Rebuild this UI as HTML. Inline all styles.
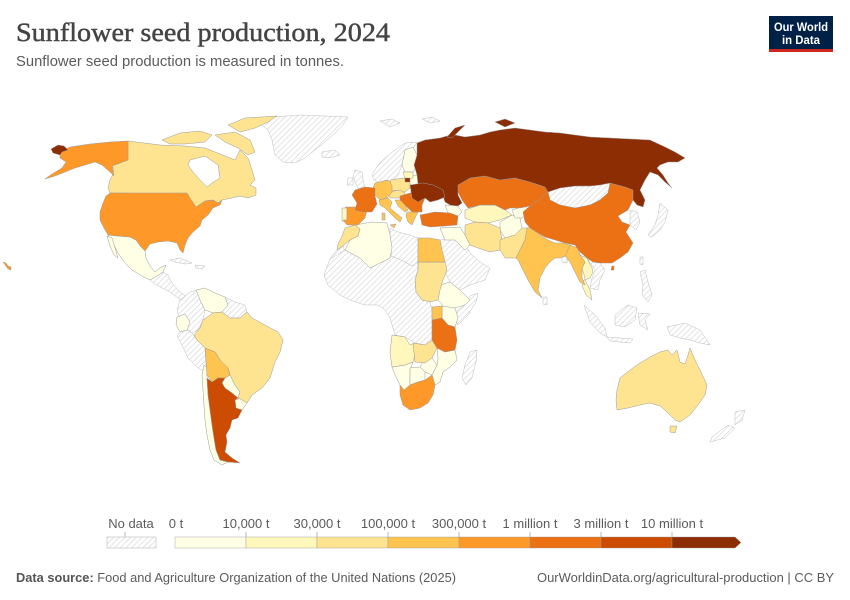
<!DOCTYPE html>
<html><head><meta charset="utf-8"><style>
html,body{margin:0;padding:0;background:#fff;}
svg{display:block;}
</style></head><body>
<svg width="850" height="600" viewBox="0 0 850 600" xmlns="http://www.w3.org/2000/svg">
<defs>
<pattern id="h" width="4" height="4" patternUnits="userSpaceOnUse" patternTransform="rotate(45)">
<rect width="4" height="4" fill="#fff"/><line x1="0" y1="0" x2="0" y2="4" stroke="#d6d6d6" stroke-width="1.3"/>
</pattern>
</defs>
<rect width="850" height="600" fill="#fff"/>
<text x="16" y="41" font-family="Liberation Serif, serif" font-size="26.5" fill="#444" stroke="#444" stroke-width="0.45" textLength="374" lengthAdjust="spacingAndGlyphs">Sunflower seed production, 2024</text>
<text x="16" y="66" font-family="Liberation Sans, sans-serif" font-size="14.5" fill="#5b5b5b" textLength="328" lengthAdjust="spacingAndGlyphs">Sunflower seed production is measured in tonnes.</text>
<rect x="769" y="16" width="64" height="36" fill="#002147"/>
<rect x="769" y="49" width="64" height="3" fill="#ce261e"/>
<text x="801" y="31" text-anchor="middle" font-family="Liberation Sans, sans-serif" font-size="11.5" font-weight="bold" fill="#fff" textLength="54" lengthAdjust="spacingAndGlyphs">Our World</text>
<text x="801" y="44" text-anchor="middle" font-family="Liberation Sans, sans-serif" font-size="11.5" font-weight="bold" fill="#fff" textLength="38" lengthAdjust="spacingAndGlyphs">in Data</text>

<!-- MAP -->
<g stroke="#bdbdbd" stroke-width="0.5" fill="url(#h)">
<path d="M258,118 L300,115 L348,117 L343,125 L335,133 L325,142 L315,150 L305,158 L295,163 L283,162 L275,155 L272,140 L268,130 L260,124 Z"/>
<path d="M322,152 L335,150 L340,155 L330,158 L322,157 Z"/>
<path d="M380,121 L392,119 L400,123 L390,127 Z"/>
<path d="M422,119 L432,117 L440,121 L430,123 Z"/>
<path d="M150,280 L157,276 L163,272 L168,275 L172,283 L180,292 L188,298 L185,302 L178,298 L170,292 L162,288 L155,284 Z"/>
<path d="M170,260 L180,258 L192,263 L185,264 L175,262 Z"/>
<path d="M195,265 L205,266 L202,269 L196,268 Z"/>
<path d="M180,300 L190,292 L197,290 L200,300 L205,310 L203,320 L198,330 L192,333 L186,327 L180,320 L177,310 Z"/>
<path d="M225,297 L235,302 L245,305 L247,312 L240,318 L230,318 L222,312 L228,305 Z"/>
<path d="M180,332 L187,330 L192,333 L197,340 L205,348 L206,362 L206,372 L198,368 L188,358 L182,345 L177,336 Z"/>
<path d="M337,250 L343,246 L345,252 L335,262 L330,259 Z"/>
<path d="M390,228 L398,232 L410,235 L418,238 L418,262 L412,266 L405,262 L392,256 L390,248 Z"/>
<path d="M470,296 L478,293 L476,302 L468,315 L458,325 L455,320 L458,310 L465,305 Z"/>
<path d="M330,259 L345,250 L360,258 L370,268 L378,264 L390,258 L392,256 L405,262 L412,266 L418,262 L418,270 L415,280 L416,292 L422,300 L430,302 L432,310 L432,322 L432,340 L425,345 L415,343 L405,337 L395,335 L390,318 L385,310 L378,305 L365,305 L350,300 L340,295 L328,285 L324,275 Z"/>
<path d="M470,352 L477,350 L476,362 L472,378 L466,385 L462,378 L465,365 Z"/>
<path d="M440,240 L455,237 L465,245 L472,255 L480,262 L490,268 L485,280 L470,285 L460,290 L450,282 L445,272 L443,260 Z"/>
<path d="M548,192 L560,188 L575,186 L590,186 L600,185 L610,183 L608,193 L600,200 L590,205 L575,208 L560,205 L550,200 Z"/>
<path d="M587,258 L593,262 L600,263 L605,270 L600,280 L598,290 L590,288 L592,278 L595,270 Z"/>
<path d="M562,255 L568,256 L567,263 L562,262 Z"/>
<path d="M543,297 L547,297 L547,305 L543,304 Z"/>
<path d="M584,305 L595,315 L605,328 L607,337 L600,333 L590,322 Z"/>
<path d="M615,315 L628,305 L637,308 L635,320 L625,327 L615,325 Z"/>
<path d="M607,337 L633,339 L630,343 L610,341 Z"/>
<path d="M638,313 L650,314 L645,320 L648,330 L640,325 Z"/>
<path d="M667,327 L685,323 L700,330 L710,345 L700,343 L690,340 L680,338 L670,335 Z"/>
<path d="M640,272 L645,270 L648,282 L652,295 L648,302 L642,295 L643,285 Z"/>
<path d="M660,203 L668,210 L665,222 L660,230 L652,237 L648,235 L655,225 L658,215 Z"/>
<path d="M630,210 L637,212 L640,222 L636,230 L630,225 Z"/>
<path d="M640,257 L643,257 L643,265 L640,264 Z"/>
<path d="M735,412 L745,410 L742,420 L735,425 Z"/>
<path d="M728,425 L735,428 L725,438 L710,442 L712,437 Z"/>
<path d="M372,175 L378,165 L385,158 L395,150 L405,143 L417,142 L413,148 L405,152 L402,165 L398,175 L392,182 L385,180 L380,183 L374,180 Z"/>
<path d="M355,170 L362,172 L363,180 L365,188 L358,188 L355,182 L353,176 Z"/>
<path d="M348,178 L353,178 L353,185 L347,185 Z"/>
</g>

<g stroke="#9a9a9a" stroke-width="0.5">
<!-- c0 -->
<g fill="#ffffe5">
<path d="M108,235 L118,236 L130,237 L136,240 L141,247 L145,251 L146,258 L150,266 L155,272 L160,268 L166,265 L163,272 L157,276 L150,280 L142,276 L132,270 L125,263 L118,253 L114,245 Z"/>
<path d="M107,236 L112,238 L115,248 L118,258 L114,255 L110,246 Z"/>
<path d="M196,290 L205,288 L215,293 L225,297 L228,305 L222,312 L213,313 L205,310 L200,300 Z"/>
<path d="M177,317 L185,314 L190,322 L187,330 L180,332 L176,325 Z"/>
<path d="M225,378 L230,375 L235,385 L240,392 L238,398 L232,393 L225,388 L222,383 Z"/>
<path d="M235,400 L242,398 L247,403 L242,410 L236,408 Z"/>
<path d="M204,365 L207,368 L207,378 L208,395 L210,410 L212,425 L214,438 L216,450 L220,460 L228,462 L222,465 L214,460 L210,450 L207,435 L205,420 L204,405 L203,390 L202,375 Z"/>
<path d="M355,225 L372,222 L387,223 L390,235 L392,248 L390,258 L378,264 L370,268 L360,258 L345,250 L350,240 L358,236 L360,229 Z"/>
<path d="M440,285 L450,282 L460,290 L470,300 L465,305 L455,308 L445,308 L438,300 Z"/>
<path d="M442,306 L455,308 L458,318 L455,327 L448,325 L442,318 Z"/>
<path d="M437,348 L445,352 L455,350 L457,360 L450,367 L443,372 L440,382 L435,385 L432,375 L437,365 L438,358 Z"/>
<path d="M423,362 L432,358 L437,365 L432,375 L425,372 L420,367 Z"/>
<path d="M392,367 L405,365 L413,362 L410,370 L410,385 L404,390 L400,385 L395,375 Z"/>
<path d="M410,368 L420,367 L425,372 L425,380 L418,382 L410,385 Z"/>
<path d="M440,228 L460,227 L465,235 L470,245 L465,250 L455,240 L445,240 Z"/>
<path d="M500,222 L512,215 L520,218 L522,228 L515,235 L505,238 L500,230 Z"/>
<path d="M512,210 L525,206 L530,212 L522,218 L515,218 Z"/>
<path d="M445,205 L458,206 L462,212 L458,216 L448,213 Z"/>
<path d="M405,150 L413,147 L417,155 L418,165 L413,172 L405,172 L402,165 Z"/>
<path d="M408,177 L418,175 L423,182 L418,186 L408,186 Z"/>
</g>
<!-- c1 -->
<g fill="#fff7bc">
<path d="M392,335 L405,337 L410,345 L415,343 L415,355 L413,362 L405,365 L392,367 L390,352 Z"/>
<path d="M465,210 L480,205 L495,205 L505,210 L512,215 L500,220 L488,223 L475,222 L465,218 Z"/>
<path d="M342,208 L347,208 L347,222 L342,221 Z"/>
<path d="M580,255 L587,258 L592,268 L593,272 L590,278 L585,280 L590,290 L592,300 L586,295 L582,285 L585,278 L582,268 L585,262 Z"/>
<path d="M403,172 L413,172 L413,178 L405,179 Z"/>
</g>
<!-- c2 -->
<g fill="#fee391">
<path d="M128,141 L160,145 L185,146 L205,148 L215,152 L225,156 L235,160 L240,150 L248,158 L252,170 L255,180 L250,185 L256,188 L256,195 L248,198 L240,196 L232,198 L222,200 L218,203 L213,200 L205,201 L196,207 L190,205 L187,194 L110,193 L108,188 L110,180 L112,176 L114,170 L112,166 L128,160 Z"/>
<path d="M228,125 L245,118 L277,116 L268,122 L255,128 L240,132 Z"/>
<path d="M215,135 L235,132 L250,140 L255,152 L248,155 L238,148 L225,142 Z"/>
<path d="M162,140 L180,133 L200,131 L212,135 L205,142 L185,144 L170,144 Z"/>
<path d="M203,320 L213,313 L222,312 L230,318 L240,318 L247,312 L252,318 L265,325 L278,332 L283,340 L280,352 L275,362 L270,378 L262,388 L252,395 L247,403 L242,400 L238,398 L240,392 L235,385 L230,375 L228,368 L220,360 L215,352 L205,348 L197,340 L194,335 L200,328 Z"/>
<path d="M345,228 L355,225 L360,229 L358,236 L350,240 L343,246 L337,250 L338,244 L342,236 Z"/>
<path d="M418,262 L445,262 L447,270 L443,280 L440,290 L438,300 L430,302 L422,300 L416,292 L415,280 L418,270 Z"/>
<path d="M413,343 L425,345 L432,340 L437,348 L432,358 L425,363 L415,362 Z"/>
<path d="M465,225 L475,222 L488,223 L500,228 L502,240 L500,250 L490,252 L478,248 L470,245 L465,235 Z"/>
<path d="M500,240 L505,238 L515,235 L522,228 L528,228 L525,240 L520,250 L516,258 L505,258 L500,250 Z"/>
<path d="M617,390 L620,378 L630,370 L640,363 L650,357 L660,352 L668,350 L672,355 L677,350 L680,362 L685,364 L688,355 L690,348 L695,360 L700,370 L707,385 L705,395 L698,405 L690,415 L680,422 L675,420 L665,410 L660,406 L650,403 L640,405 L628,408 L617,410 L616,400 Z"/>
<path d="M670,426 L677,426 L675,433 L670,432 Z"/>
<path d="M390,180 L403,178 L410,180 L410,188 L405,192 L392,190 Z"/>
<path d="M388,192 L400,190 L405,193 L402,198 L390,198 Z"/>
</g>
<!-- c3 -->
<g fill="#fec44f">
<path d="M418,238 L430,238 L440,240 L442,250 L445,262 L418,262 Z"/>
<path d="M432,307 L442,306 L442,318 L432,320 Z"/>
<path d="M205,348 L215,352 L220,360 L228,368 L230,375 L225,378 L218,378 L212,382 L207,375 L206,362 Z"/>
<path d="M527,228 L533,227 L540,235 L548,240 L555,243 L563,243 L570,245 L572,250 L565,256 L560,258 L555,258 L550,262 L545,268 L540,278 L538,290 L542,298 L535,292 L528,280 L522,268 L518,260 L516,258 L520,250 L525,240 Z"/>
<path d="M570,245 L578,248 L580,255 L585,262 L582,268 L582,278 L585,285 L580,282 L575,272 L570,262 L565,256 Z"/>
<path d="M375,183 L388,180 L392,185 L392,192 L388,197 L380,200 L375,195 L373,188 Z"/>
<path d="M379,200 L388,198 L392,202 L390,208 L396,213 L402,218 L400,222 L395,218 L390,213 L385,208 L380,205 Z"/>
<path d="M390,225 L396,224 L394,228 Z"/>
<path d="M382,213 L385,213 L385,220 L382,220 Z"/>
<path d="M395,200 L402,200 L408,210 L405,212 L398,206 Z"/>
<path d="M407,212 L418,212 L415,218 L412,225 L408,222 L406,216 Z"/>
</g>
<!-- c4 -->
<g fill="#fe9929">
<path d="M110,193 L187,193 L190,198 L196,207 L205,201 L213,200 L218,203 L222,200 L220,205 L213,208 L208,215 L202,220 L200,226 L193,232 L188,238 L185,245 L183,253 L180,250 L177,243 L168,241 L158,242 L150,244 L145,251 L141,247 L136,240 L130,237 L118,236 L108,235 L104,228 L100,220 L100,212 L103,203 L106,196 Z"/>
<path d="M60,152 L70,147 L90,144 L110,142 L128,141 L128,160 L112,166 L114,176 L110,172 L102,165 L95,162 L85,165 L75,168 L65,172 L55,176 L45,179 L52,174 L62,168 L66,162 L60,158 Z"/>
<path d="M3,262 L6,263 L8,266 L11,267 L11,270 L8,269 Z"/>
<path d="M400,385 L404,390 L410,385 L418,382 L425,380 L432,375 L435,385 L433,395 L428,403 L420,408 L410,410 L403,405 L400,395 Z"/>
<path d="M345,207 L357,207 L367,210 L365,218 L358,225 L347,225 L343,220 L347,220 L347,208 Z"/>
</g>
<!-- c5 -->
<g fill="#ec7014">
<path d="M432,320 L442,318 L448,325 L455,327 L457,340 L455,350 L445,352 L437,348 L432,340 Z"/>
<path d="M420,215 L435,212 L450,213 L458,216 L457,225 L445,226 L430,227 L422,225 Z"/>
<path d="M458,185 L470,178 L485,176 L500,180 L515,178 L530,182 L545,187 L548,192 L538,200 L530,206 L520,208 L510,208 L505,210 L495,205 L480,205 L468,208 L462,200 L458,192 Z"/>
<path d="M523,212 L530,206 L538,200 L548,192 L550,200 L560,205 L575,208 L590,205 L600,200 L608,193 L610,183 L625,187 L633,190 L633,200 L628,210 L618,216 L622,222 L630,225 L626,232 L633,243 L628,252 L620,258 L612,263 L600,263 L593,262 L587,258 L580,252 L575,245 L565,243 L555,240 L545,237 L538,233 L530,228 L525,222 Z"/>
<path d="M612,266 L614,266 L614,270 L611,270 Z"/>
<path d="M355,190 L365,187 L375,188 L375,196 L377,204 L372,212 L362,212 L355,210 L357,203 L352,195 Z"/>
<path d="M400,196 L410,193 L418,192 L425,198 L422,205 L422,212 L412,212 L405,205 L400,200 Z"/>
</g>
<!-- c6 -->
<g fill="#cc4c02">
<path d="M207,378 L212,382 L218,378 L225,378 L222,383 L225,388 L232,393 L238,398 L235,400 L236,408 L242,410 L238,418 L232,420 L230,428 L226,435 L227,442 L225,452 L232,458 L240,463 L228,462 L220,460 L216,450 L214,438 L212,425 L210,410 L208,395 Z"/>
</g>
<!-- c7 -->
<g fill="#8c2d04">
<path d="M417,143 L425,140 L440,138 L447,136 L455,135 L465,137 L480,135 L490,132 L500,130 L515,128 L530,130 L545,132 L560,133 L575,135 L590,137 L610,138 L630,139 L650,140 L665,147 L675,152 L685,158 L678,162 L668,162 L660,165 L657,168 L663,175 L668,183 L672,188 L665,182 L658,175 L650,172 L645,180 L640,190 L645,200 L643,207 L637,205 L633,200 L633,190 L625,187 L610,183 L600,185 L590,186 L575,186 L560,188 L548,192 L545,187 L530,182 L515,178 L500,180 L485,176 L470,178 L458,185 L458,195 L462,203 L458,206 L450,205 L445,202 L443,196 L443,190 L435,188 L425,186 L418,184 L417,175 L414,165 L417,155 Z"/>
<path d="M447,137 L455,128 L465,125 L458,132 L452,138 Z"/>
<path d="M495,122 L505,119 L515,123 L505,127 Z"/>
<path d="M51,149 L58,145 L64,146 L68,150 L62,152 L60,155 L53,153 Z"/>
<path d="M405,178 L410,178 L410,182 L405,182 Z"/>
<path d="M410,185 L423,183 L433,185 L443,190 L445,197 L438,200 L430,202 L425,198 L418,202 L412,198 Z"/>
</g>
</g>
<!-- Hudson Bay -->
<path d="M190,160 L205,156 L218,165 L220,178 L212,183 L207,187 L200,180 L193,172 L188,165 Z" fill="#fff" stroke="#9a9a9a" stroke-width="0.5"/>

<!-- LEGEND -->
<g font-family="Liberation Sans, sans-serif" font-size="13" fill="#5b5b5b" text-anchor="middle">
<text x="131" y="528">No data</text>
<text x="176" y="528">0 t</text>
<text x="246" y="528">10,000 t</text>
<text x="317" y="528">30,000 t</text>
<text x="388" y="528">100,000 t</text>
<text x="459" y="528">300,000 t</text>
<text x="530" y="528">1 million t</text>
<text x="601" y="528">3 million t</text>
<text x="672" y="528">10 million t</text>
</g>
<g stroke="#aaa" stroke-width="0.8">
<line x1="246" y1="532" x2="246" y2="537"/><line x1="317" y1="532" x2="317" y2="537"/><line x1="388" y1="532" x2="388" y2="537"/><line x1="459" y1="532" x2="459" y2="537"/><line x1="530" y1="532" x2="530" y2="537"/><line x1="601" y1="532" x2="601" y2="537"/><line x1="672" y1="532" x2="672" y2="537"/><line x1="125" y1="532" x2="125" y2="537"/>
</g>
<rect x="107" y="537" width="49" height="11" fill="url(#h)" stroke="#bbb" stroke-width="0.6"/>
<g stroke="#999" stroke-width="0.4">
<rect x="175" y="537" width="71" height="11" fill="#ffffe5"/>
<rect x="246" y="537" width="71" height="11" fill="#fff7bc"/>
<rect x="317" y="537" width="71" height="11" fill="#fee391"/>
<rect x="388" y="537" width="71" height="11" fill="#fec44f"/>
<rect x="459" y="537" width="71" height="11" fill="#fe9929"/>
<rect x="530" y="537" width="71" height="11" fill="#ec7014"/>
<rect x="601" y="537" width="71" height="11" fill="#cc4c02"/>
<path d="M672,537 L735,537 L741,542.5 L735,548 L672,548 Z" fill="#8c2d04"/>
</g>

<!-- FOOTER -->
<text x="16" y="582" font-family="Liberation Sans, sans-serif" font-size="13" fill="#5b5b5b" textLength="440" lengthAdjust="spacingAndGlyphs"><tspan font-weight="bold" fill="#555">Data source:</tspan> Food and Agriculture Organization of the United Nations (2025)</text>
<text x="834" y="582" text-anchor="end" font-family="Liberation Sans, sans-serif" font-size="13" fill="#5b5b5b" textLength="297" lengthAdjust="spacingAndGlyphs">OurWorldinData.org/agricultural-production | CC BY</text>
</svg>
</body></html>
